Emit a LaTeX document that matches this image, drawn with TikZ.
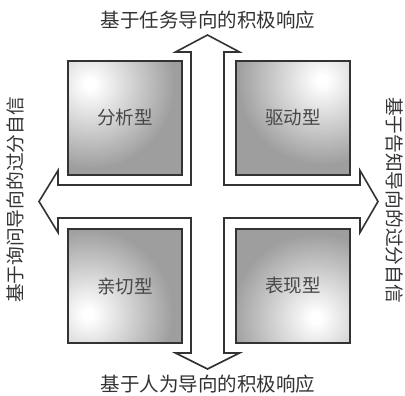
\documentclass[tikz,border=0pt]{standalone}
\usepackage{fontspec}
\newfontfamily\cjk{Noto Sans CJK SC}
\definecolor{ink}{HTML}{333333}
\definecolor{sqgray}{HTML}{9E9E9E}
\pgfdeclareradialshading{hilite}{\pgfpoint{0bp}{0bp}}{color(0bp)=(white); color(1.5bp)=(white); color(25bp)=(sqgray); color(50bp)=(sqgray)}
\usetikzlibrary{calc}
\tikzset{
  lbl/.style={font=\cjk\fontsize{19.5}{19.5}\selectfont, text=ink, inner sep=0pt},
  sidelbl/.style={font=\cjk\fontsize{18.7}{18.7}\selectfont, text=ink, inner sep=0pt},
  sqlbl/.style={font=\cjk\fontsize{18.5}{18.5}\selectfont, text=ink!90, inner sep=0pt},
  crossline/.style={draw=ink, line width=1.6pt, line join=miter, fill=white},
  sqframe/.style={draw=ink, line width=1.8pt}
}
\newcommand{\quadsq}[5]{% name, x0, y0, hx, hy
  \begin{scope}
    \clip (#2,#3) rectangle ++(114,114);
    \fill[sqgray] (#2,#3) rectangle ++(114,114);
    \shade[shading=hilite] (#4,#5) circle (85);
  \end{scope}
  \draw[sqframe] (#2,#3) rectangle ++(114,114);
  \coordinate (#1) at ($(#2,#3)+(57,57)$);
}
\begin{document}
\begin{tikzpicture}[x=1pt,y=1pt]
\useasboundingbox (0,0) rectangle (405,396);
\fill[white] (0,0) rectangle (405,396);
% squares
\quadsq{tl}{68}{221}{90}{312}
\quadsq{tr}{236}{221}{322}{316}
\quadsq{bl}{68}{53}{88}{82}
\quadsq{br}{236}{53}{316}{78}
% cross of four arrows
\coordinate (c) at (207.5,194.5);
\draw[crossline]
  (207.5,361) -- (239.5,344) -- (224,344) -- (224,211) -- (360,211)
  -- (360,225.5) -- (378,194.5) -- (360,163.5) -- (360,178) -- (224,178)
  -- (224,43) -- (239.5,43) -- (207.5,27) -- (175.5,43) -- (191,43)
  -- (191,178) -- (58,178) -- (58,163.5) -- (39,194.5) -- (58,225.5)
  -- (58,211) -- (191,211) -- (191,344) -- (175.5,344) -- cycle;
% square labels
\node[sqlbl] (ltl) at (tl) {分析型};
\node[sqlbl] (ltr) at (tr) {驱动型};
\node[sqlbl] (lbl) at (bl) {亲切型};
\node[sqlbl] (lbr) at (br) {表现型};
% outer labels
\node[lbl] (top) at (208,376) {基于任务导向的积极响应};
\node[lbl] (bot) at (208,12) {基于人为导向的积极响应};
\node[sidelbl, rotate=90] (left) at (15,196) {基于询问导向的过分自信};
\node[sidelbl, rotate=-90] (right) at (394.5,196) {基于告知导向的过分自信};
\end{tikzpicture}
\end{document}
